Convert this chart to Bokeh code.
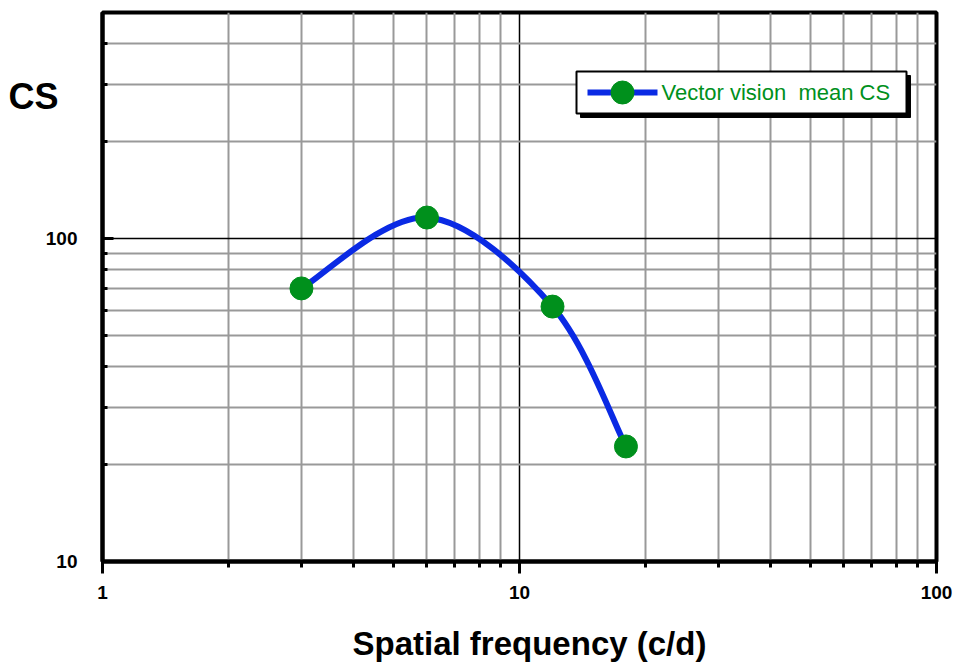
import math
from bokeh.plotting import figure
from bokeh.models import FixedTicker, Label, Range1d, NumeralTickFormatter, Title
from bokeh.embed import file_html
from bokeh.resources import INLINE

# ---- data ----
freq = [3, 6, 12, 18]            # spatial frequency (c/d)
cs_mean = [70, 116, 61.5, 22.7]  # contrast sensitivity
series_name = "Vector vision\u00a0 mean CS"
x_title = "Spatial frequency (c/d)"
y_title = "CS"
x_major = [1, 10, 100]
x_minor = [2, 3, 4, 5, 6, 7, 8, 9, 20, 30, 40, 50, 60, 70, 80, 90]
y_major = [10, 100]
y_minor = [20, 30, 40, 50, 60, 70, 80, 90, 200, 300, 400, 500]

BLUE = "#0a2ae4"
GREEN = "#00901c"
FONT = "Liberation Sans"

# ---- layout (screen px of the frame in the page) ----
W, H = 953, 664
FL, FR, FT, FB = 102, 936, 12, 561
XMIN, XMAX, YMIN, YMAX = 1, 100, 10, 500


def dx(px):
    return 10 ** (math.log10(XMIN) + (px - FL) / (FR - FL) * math.log10(XMAX / XMIN))


def dy(py):
    return 10 ** (math.log10(YMIN) + (FB - py) / (FB - FT) * math.log10(YMAX / YMIN))


p = figure(width=W, height=H, x_axis_type="log", y_axis_type="log",
           x_range=Range1d(XMIN, XMAX), y_range=Range1d(YMIN, YMAX),
           output_backend="svg", toolbar_location=None,
           min_border_left=FL, min_border_right=W - FR,
           min_border_top=FT, min_border_bottom=H - FB)
p.background_fill_color = "white"
p.border_fill_color = "white"
p.outline_line_color = "black"
p.outline_line_width = 4

# "CS" title at the upper left (title panel pulled down beside the frame)
p.title.text = y_title
p.title.align = "left"
p.title.offset = 8 - FL
p.title.standoff = -209
p.title.text_font = FONT
p.title.text_font_style = "bold"
p.title.text_font_size = "36px"
p.title.text_color = "black"

# x-axis title, slightly right of centre as in the source chart
p.add_layout(Title(text=x_title, align="left", offset=250, standoff=-1298,
                   text_font=FONT, text_font_style="bold", text_font_size="33px",
                   text_color="black"), "above")

xt = FixedTicker(ticks=x_major, minor_ticks=x_minor)
yt = FixedTicker(ticks=y_major, minor_ticks=y_minor)
p.xaxis.ticker = xt
p.yaxis.ticker = yt
p.xgrid.ticker = xt
p.ygrid.ticker = yt
for ax in (p.xaxis, p.yaxis):
    ax.formatter = NumeralTickFormatter(format="0")
    ax.axis_line_width = 4
    ax.axis_line_color = "black"
    ax.major_tick_line_width = 3
    ax.minor_tick_line_width = 3
    ax.major_label_text_font = FONT
    ax.major_label_text_font_style = "bold"
    ax.major_label_text_font_size = "19px"
    ax.major_label_text_color = "black"

p.xaxis.major_tick_out = 12
p.xaxis.major_tick_in = 0
p.xaxis.minor_tick_out = 6
p.xaxis.minor_tick_in = 0
p.xaxis.major_label_standoff = 12

p.yaxis.major_tick_out = 0
p.yaxis.major_tick_in = 11
p.yaxis.minor_tick_out = 0
p.yaxis.minor_tick_in = 5
p.yaxis.major_label_standoff = 25

for g in (p.xgrid, p.ygrid):
    g.grid_line_color = "black"
    g.grid_line_width = 1.5
    g.minor_grid_line_color = "#999999"
    g.minor_grid_line_width = 2

# smooth curve: cubic Bezier segments (control points from neighbours, in log space)
lx = [math.log10(v) for v in freq]
ly = [math.log10(v) for v in cs_mean]
n = len(lx)
x0s, y0s, x1s, y1s, cx0, cy0, cx1, cy1 = [], [], [], [], [], [], [], []
for i in range(n - 1):
    a = max(i - 1, 0)
    b = min(i + 2, n - 1)
    x0s.append(freq[i]); y0s.append(cs_mean[i])
    x1s.append(freq[i + 1]); y1s.append(cs_mean[i + 1])
    cx0.append(10 ** (lx[i] + (lx[i + 1] - lx[a]) / 6))
    cy0.append(10 ** (ly[i] + (ly[i + 1] - ly[a]) / 6))
    cx1.append(10 ** (lx[i + 1] - (lx[b] - lx[i]) / 6))
    cy1.append(10 ** (ly[i + 1] - (ly[b] - ly[i]) / 6))
p.bezier(x0=x0s, y0=y0s, x1=x1s, y1=y1s, cx0=cx0, cy0=cy0, cx1=cx1, cy1=cy1,
         line_color=BLUE, line_width=6)
p.scatter(freq, cs_mean, size=23, fill_color=GREEN, line_color=GREEN)

# ---- legend (drawn by hand for the large marker and the drop shadow) ----
LG_L, LG_R, LG_T, LG_B = 576, 906, 71, 113
SH = 4
p.quad(left=[dx(LG_L + SH)], right=[dx(LG_R + SH)], top=[dy(LG_T + SH)], bottom=[dy(LG_B + SH)],
       fill_color="black", line_color="black")
p.quad(left=[dx(LG_L)], right=[dx(LG_R)], top=[dy(LG_T)], bottom=[dy(LG_B)],
       fill_color="white", line_color="black", line_width=2)
ymid = dy((LG_T + LG_B) / 2)
p.line([dx(587), dx(657)], [ymid, ymid], line_color=BLUE, line_width=6)
p.scatter([dx(622)], [ymid], size=23, fill_color=GREEN, line_color=GREEN)
p.add_layout(Label(x=dx(661), y=ymid, text=series_name, text_align="left",
                   text_baseline="middle", text_font=FONT, text_font_size="22px",
                   text_color=GREEN))

open("out.html", "w").write(file_html(p, INLINE))
